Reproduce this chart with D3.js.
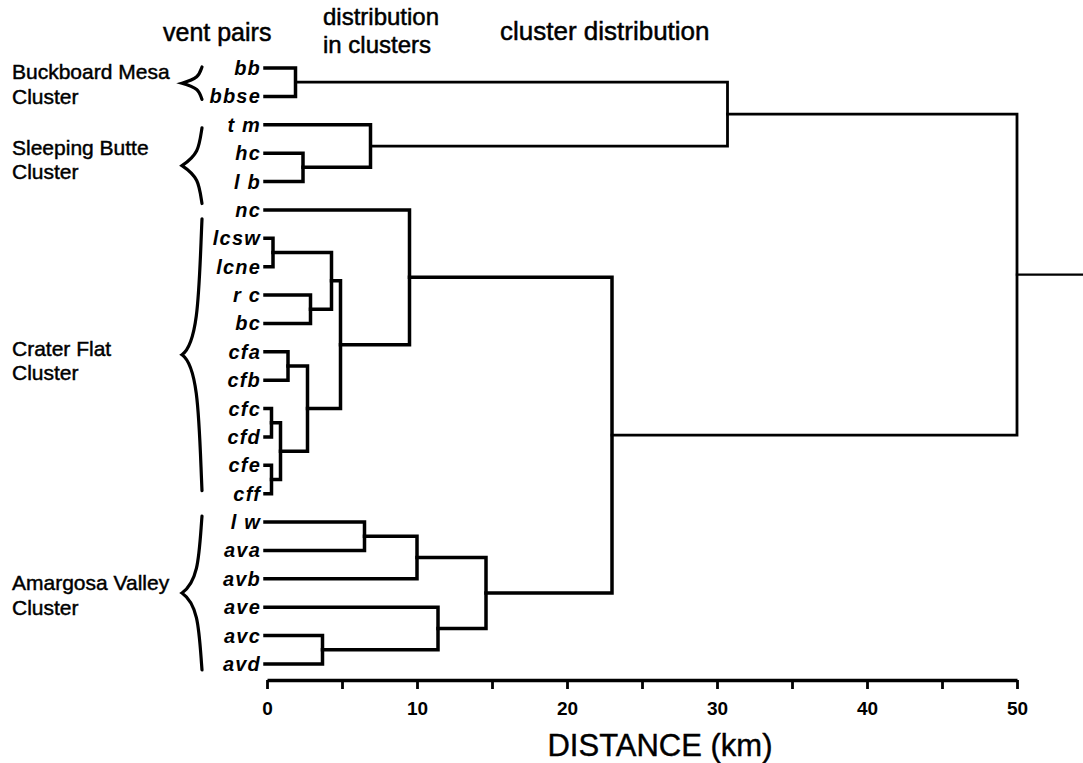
<!DOCTYPE html>
<html>
<head>
<meta charset="utf-8">
<script src="https://cdn.jsdelivr.net/npm/d3@7"></script>
<style>
  html, body { margin: 0; padding: 0; background: #fff; }
  svg { display: block; font-family: "Liberation Sans", Arial, Helvetica, sans-serif; }
</style>
</head>
<body>
<svg id="chart" width="1083" height="763"></svg>
<script>
// ---- data ----
const leafNames = ["bb","bbse","t m","hc","l b","nc","lcsw","lcne","r c","bc","cfa","cfb","cfc","cfd","cfe","cff","l w","ava","avb","ave","avc","avd"];
// merges: ids m0..m20 (children refer to leaf names or merge ids)
const mergeLeft   = ["bb","hc","t m","m0","lcsw","r c","m4","cfa","cfc","cfe","m8","m7","m6","nc","l w","m14","avc","ave","m15","m13","m3"];
const mergeRight  = ["bbse","l b","m1","m2","lcne","bc","m5","cfb","cfd","cff","m9","m10","m11","m12","ava","avb","avd","m16","m17","m18","m19"];
const mergeHeight = [1.9, 2.4, 6.9, 30.7, 0.4, 2.9, 4.3, 1.4, 0.3, 0.3, 0.9, 2.7, 4.9, 9.5, 6.5, 10.0, 3.7, 11.4, 14.6, 23.0, 50.0];
const tickValues  = [0,5,10,15,20,25,30,35,40,45,50];
const tickLabels  = ["0","","10","","20","","30","","40","","50"];
const clusterNames = [["Buckboard Mesa","Cluster"],["Sleeping Butte","Cluster"],["Crater Flat","Cluster"],["Amargosa Valley","Cluster"]];
const clusterFirst = ["bb","t m","nc","l w"];
const clusterLast  = ["bbse","l b","cff","avd"];
const headers = ["vent pairs","distribution","in clusters","cluster distribution"];
const axisTitle = "DISTANCE (km)";

// ---- layout / style constants ----
const W = 1083, H = 763;
const braceTopOff = [-1, 3, 9, -6];
const braceBotOff = [3, 22, -3, 6];
const labelOff    = [-4, -11, 1, -3];

const svg = d3.select("#chart");
const x = d3.scaleLinear().domain([0, 50]).range([267, 1017]);
const y = d3.scalePoint().domain(leafNames).range([68, 664]);
const axisY = 680;

const pos = {};
leafNames.forEach(n => pos[n] = {h: null, y: y(n)});
mergeLeft.forEach((l, i) => {
  const r = mergeRight[i];
  pos["m" + i] = {h: mergeHeight[i], y: (pos[l].y + pos[r].y) / 2};
});
const startX = id => pos[id].h === null ? x(0) - 2 : x(pos[id].h);

const g = svg.append("g").attr("fill", "none").attr("stroke", "#000").attr("stroke-linecap", "square");
mergeLeft.forEach((l, i) => {
  const r = mergeRight[i];
  const hx = x(mergeHeight[i]);
  const p = d3.path();
  p.moveTo(startX(l), pos[l].y);
  p.lineTo(hx, pos[l].y);
  p.lineTo(hx, pos[r].y);
  p.lineTo(startX(r), pos[r].y);
  g.append("path").attr("d", p.toString())
    .attr("stroke-width", mergeHeight[i] > 25 ? 2.8 : 3.5)
    .attr("stroke-linejoin", "miter");
});
const rootId = "m" + (mergeLeft.length - 1);
g.append("line")
  .attr("x1", x(pos[rootId].h)).attr("x2", W)
  .attr("y1", pos[rootId].y).attr("y2", pos[rootId].y)
  .attr("stroke-width", 2.4);

// leaf labels
svg.append("g").selectAll("text").data(leafNames).join("text")
  .attr("x", 261).attr("y", d => y(d) + 7)
  .attr("text-anchor", "end")
  .attr("font-size", 20).attr("font-weight", "bold").attr("font-style", "italic")
  .attr("letter-spacing", 1.2)
  .text(d => d);

// axis
const axis = d3.axisBottom(x).tickValues(tickValues).tickSize(9).tickSizeOuter(0)
  .tickFormat((d, i) => tickLabels[i]);
const ax = svg.append("g").attr("transform", `translate(0,${axisY})`).call(axis);
ax.attr("font-size", 19).attr("font-family", "'Liberation Sans', Arial, sans-serif");
ax.select(".domain").attr("stroke-width", 3.5).attr("stroke", "#000");
ax.selectAll(".tick line").attr("stroke-width", 2.8).attr("stroke", "#000");
ax.selectAll(".tick text").style("font-size", "19px").attr("font-weight", "bold")
  .attr("fill", "#000").attr("dy", null).attr("y", 35);

svg.append("text").attr("x", 660).attr("y", 756).attr("text-anchor", "middle")
  .attr("font-size", 31).attr("stroke", "#000").attr("stroke-width", 0.4).text(axisTitle);

// headers
const hdr = (t, xx, yy, fs) => svg.append("text").attr("x", xx).attr("y", yy)
  .attr("font-size", fs).attr("stroke", "#000").attr("stroke-width", 0.5).text(t);
hdr(headers[0], 163, 41, 25);
hdr(headers[1], 323, 25, 24);
hdr(headers[2], 323, 53, 24);
hdr(headers[3], 500, 40, 26);

// cluster labels and braces
clusterNames.forEach((lines, i) => {
  const top = y(clusterFirst[i]) + braceTopOff[i];
  const bot = y(clusterLast[i]) + braceBotOff[i];
  const mid = (top + bot) / 2;
  const lb = mid + labelOff[i];
  [lines[0], lines[1]].forEach((t, k) => svg.append("text")
    .attr("x", 12).attr("y", lb + k * 24.5).attr("font-size", 21)
    .attr("stroke", "#000").attr("stroke-width", 0.45).text(t));
  const xr = 200, xt = 182, h = mid - top;
  const p = d3.path();
  p.moveTo(xr + 2, top);
  p.bezierCurveTo(xr - 1, top + h * 0.5, xr - 1, mid - Math.min(12, h * 0.3), xt, mid);
  p.bezierCurveTo(xr - 1, mid + Math.min(12, h * 0.3), xr - 1, bot - h * 0.5, xr + 2, bot);
  svg.append("path").attr("d", p.toString()).attr("fill", "none").attr("stroke", "#000")
    .attr("stroke-width", 3.2).attr("stroke-linecap", "round");
});
</script>
</body>
</html>
